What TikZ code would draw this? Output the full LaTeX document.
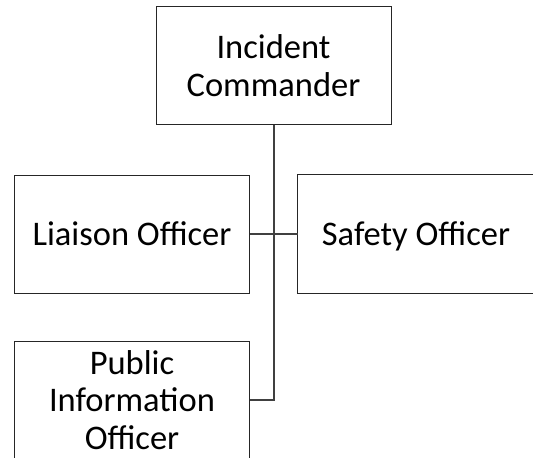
\documentclass[tikz,border=0pt]{standalone}
\usepackage{fontspec}
\setmainfont{Carlito}
\begin{document}
\begin{tikzpicture}[x=1pt,y=-1pt,
  box/.style={draw=black!85, line width=1pt, minimum width=235pt, minimum height=118pt,
    inner sep=0pt, align=center, font=\fontsize{34.5}{37.5}\selectfont},
  edge/.style={draw=black!85, line width=1pt},
  link/.style={draw=black!75, line width=1.3pt}]
  \useasboundingbox (0,0) rectangle (533,458);
  \clip (0,0) rectangle (533,458);
  \node[box] (ic) at (273.5,65.5) {Incident\\Commander};
  \node[box] (lo) at (132,234) {Liaison Officer};
  % this box runs out past the right edge, so only three of its sides are drawn
  \node[box, draw=none, minimum width=236pt, text depth=0pt] (so) at (416,234) {Safety Officer};
  \draw[edge] (so.north east) -- (so.north west) -- (so.south west) -- (so.south east);
  \node[box] (pio) at (132,400) {Public\\Information\\Officer};
  % command line down to the public information officer
  \coordinate (bend) at (274,400);
  \draw[link] (ic.south -| bend) -- (bend) -- (pio.east);
  % staff line across the command stem
  \draw[link] (lo.east) -- (so.west);
\end{tikzpicture}
\end{document}
